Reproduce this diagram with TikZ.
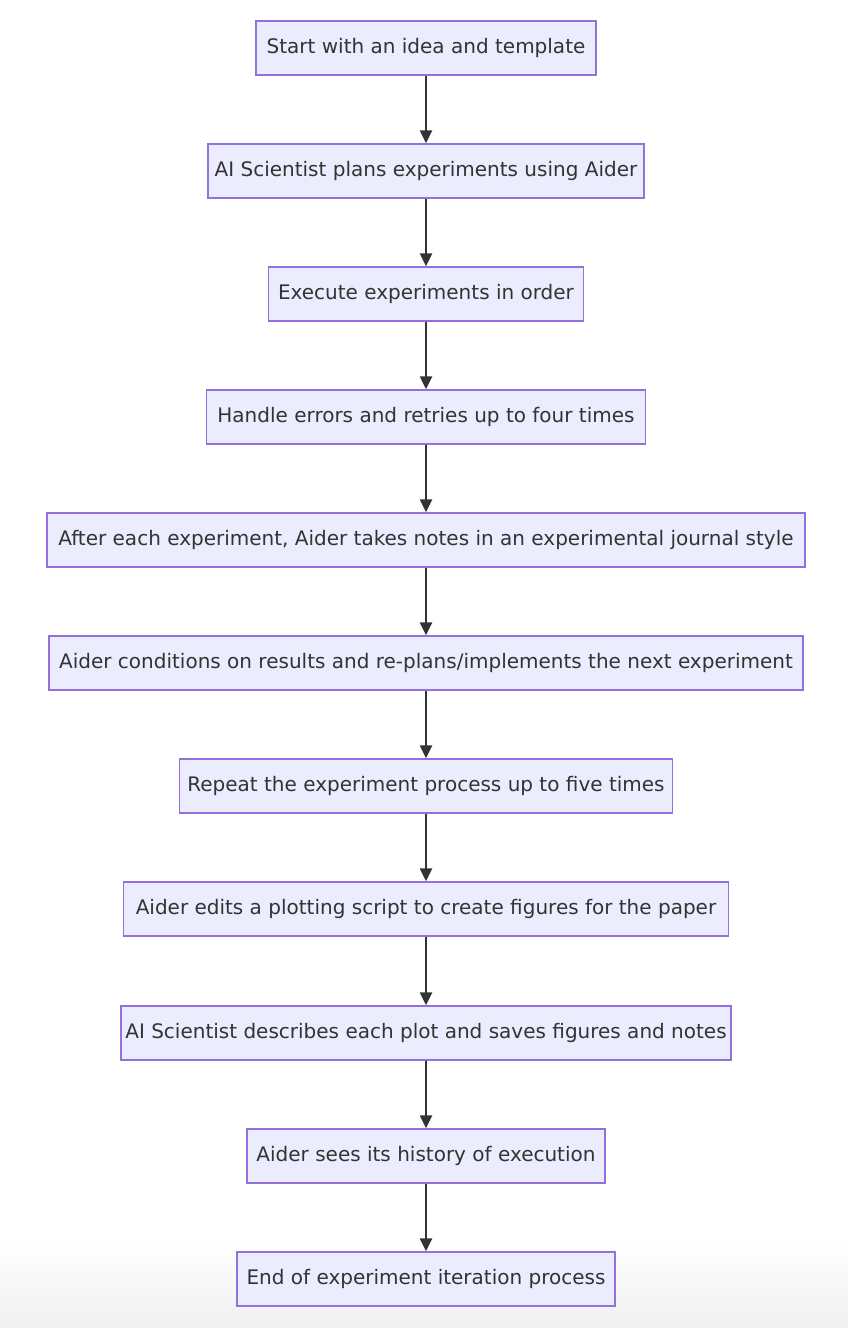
\documentclass[tikz,border=0pt]{standalone}
\usepackage{fontspec}
\setmainfont{DejaVu Sans}
\usetikzlibrary{arrows.meta}
\definecolor{boxfill}{HTML}{ECECFF}
\definecolor{boxline}{HTML}{9370DB}
\definecolor{ink}{HTML}{333333}
\tikzset{
    stepbox/.style={draw=boxline,fill=boxfill,line width=1.5pt,text=ink,
        minimum height=54pt,inner sep=0pt,font=\fontsize{20}{24}\selectfont},
    flow/.style={draw=ink,line width=2.5pt,-{Triangle[length=13pt,width=12pt]}}
}

\begin{document}
\begin{tikzpicture}[x=1pt,y=-1pt]
    \useasboundingbox (0,0) rectangle (848,1328);
    \shade [top color=white,bottom color=black!6] (0,1240) rectangle (848,1328);
    \path (426,  48) node [stepbox,minimum width=340pt] (idea) {Start with an idea and template};
    \path (426, 171) node [stepbox,minimum width=436pt] (plan) {AI Scientist plans experiments using Aider};
    \path (426, 294) node [stepbox,minimum width=315pt] (execute) {Execute experiments in order};
    \path (426, 417) node [stepbox,minimum width=439pt] (retry) {Handle errors and retries up to four times};
    \path (426, 540) node [stepbox,minimum width=758pt] (notes) {After each experiment, Aider takes notes in an experimental journal style};
    \path (426, 663) node [stepbox,minimum width=754pt] (replan) {Aider conditions on results and re-plans/implements the next experiment};
    \path (426, 786) node [stepbox,minimum width=493pt] (repeat) {Repeat the experiment process up to five times};
    \path (426, 909) node [stepbox,minimum width=605pt] (plot) {Aider edits a plotting script to create figures for the paper};
    \path (426,1033) node [stepbox,minimum width=610pt] (describe) {AI Scientist describes each plot and saves figures and notes};
    \path (426,1156) node [stepbox,minimum width=358pt] (history) {Aider sees its history of execution};
    \path (426,1279) node [stepbox,minimum width=378pt] (finish) {End of experiment iteration process};
    \draw [flow] (idea) -- (plan);
    \draw [flow] (plan) -- (execute);
    \draw [flow] (execute) -- (retry);
    \draw [flow] (retry) -- (notes);
    \draw [flow] (notes) -- (replan);
    \draw [flow] (replan) -- (repeat);
    \draw [flow] (repeat) -- (plot);
    \draw [flow] (plot) -- (describe);
    \draw [flow] (describe) -- (history);
    \draw [flow] (history) -- (finish);
\end{tikzpicture}
\end{document}
